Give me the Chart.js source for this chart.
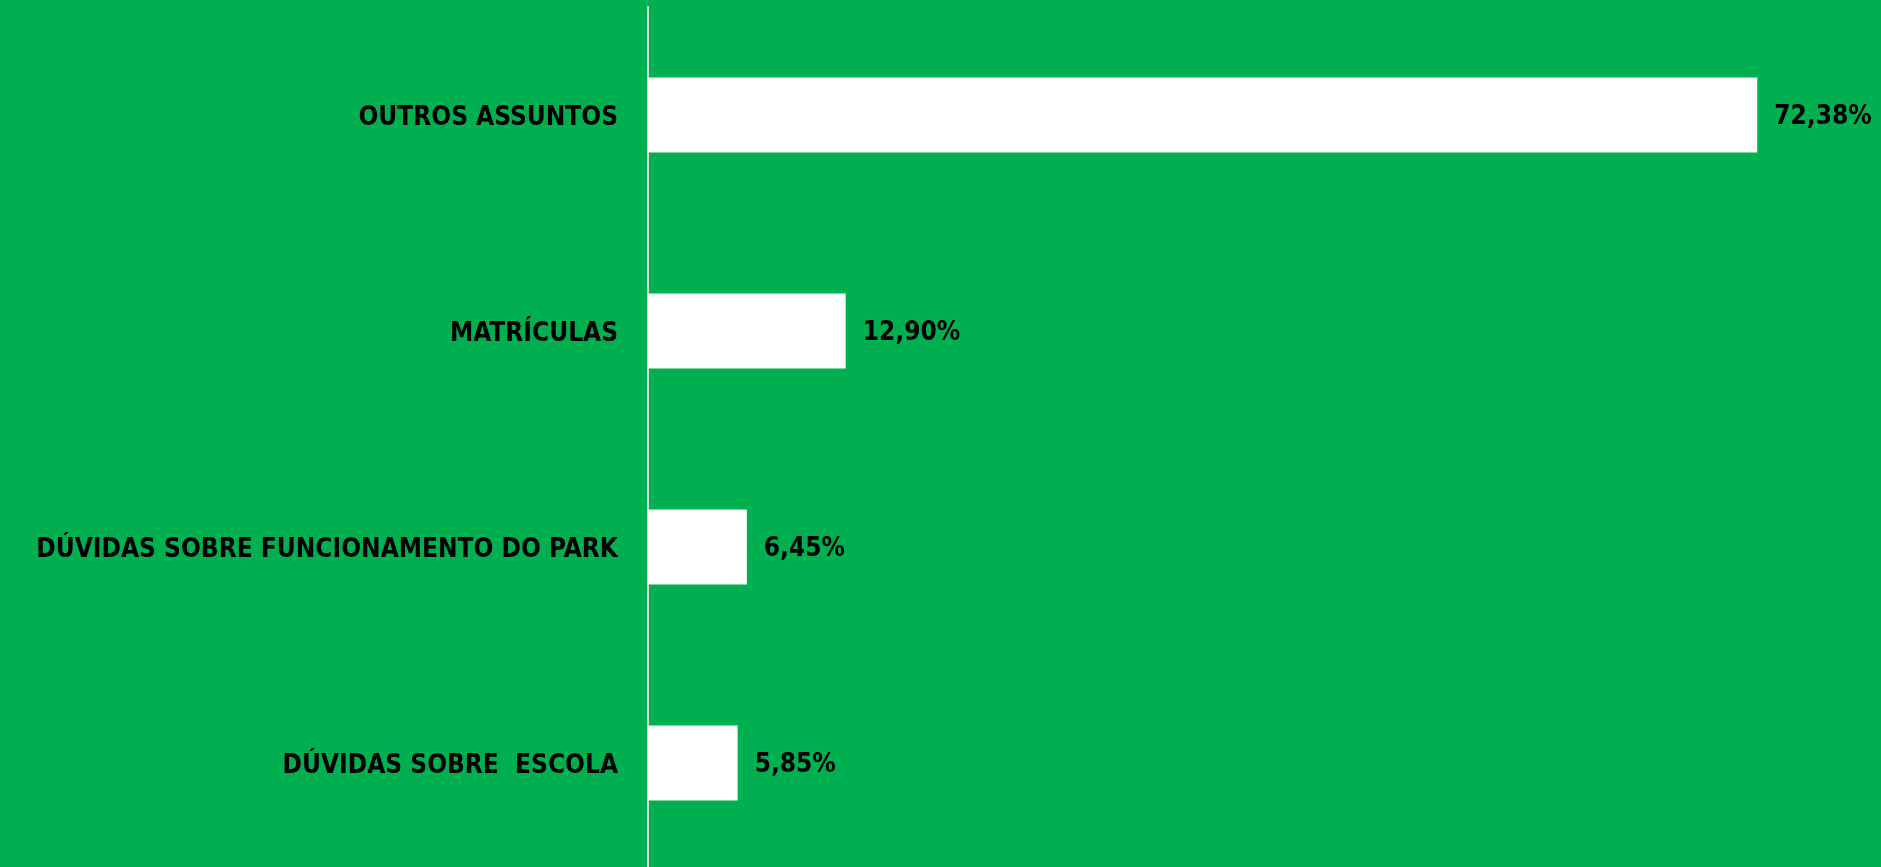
<!DOCTYPE html>
<html>
<head>
<meta charset="utf-8">
<script src="https://cdn.jsdelivr.net/npm/chart.js@4.4.1/dist/chart.umd.min.js"></script>
<style>
  html, body { margin: 0; padding: 0; background: #00B050; overflow: hidden; }
  #wrap { width: 1881px; height: 867px; position: relative; overflow: hidden; }
</style>
</head>
<body>
<div id="wrap"><canvas id="c" width="1881" height="871"></canvas></div>
<script>
const categories = ["OUTROS ASSUNTOS", "MATRÍCULAS", "DÚVIDAS SOBRE FUNCIONAMENTO DO PARK", "DÚVIDAS SOBRE  ESCOLA"];
const values = [72.38, 12.90, 6.45, 5.85];
const axisMax = 80;

const FONT_FAMILY = '"Liberation Sans Narrow", "DejaVu Sans Condensed", "Liberation Sans", sans-serif';

const valueLabels = {
  id: 'valueLabels',
  afterDatasetsDraw(chart) {
    const ctx = chart.ctx;
    const meta = chart.getDatasetMeta(0);
    ctx.save();
    ctx.font = 'bold 26px ' + FONT_FAMILY;
    ctx.fillStyle = '#000000';
    ctx.textAlign = 'left';
    ctx.textBaseline = 'middle';
    meta.data.forEach((el, i) => {
      const txt = values[i].toFixed(2).replace('.', ',') + '%';
      ctx.fillText(txt, el.x + 17, el.y + 2);
    });
    ctx.restore();
  }
};

new Chart(document.getElementById('c'), {
  type: 'bar',
  data: {
    labels: categories,
    datasets: [{
      data: values,
      backgroundColor: '#FFFFFF',
      borderWidth: 0,
      categoryPercentage: 1.0,
      barPercentage: 0.347
    }]
  },
  options: {
    indexAxis: 'y',
    responsive: false,
    animation: false,
    layout: { padding: { top: 7, right: 7, bottom: 0, left: 0 } },
    plugins: {
      legend: { display: false },
      tooltip: { enabled: false }
    },
    scales: {
      x: {
        display: false,
        min: 0,
        max: axisMax
      },
      y: {
        afterFit(scale) {
          scale.width = 648;
          scale.paddingTop = 0;
          scale.paddingBottom = 0;
        },
        grid: { display: true, color: 'rgba(0,0,0,0)', drawTicks: false },
        border: { display: true, color: '#D9D9D9', width: 2 },
        ticks: {
          padding: 30,
          labelOffset: 3,
          color: '#000000',
          font: { family: FONT_FAMILY, size: 26, weight: 'bold' }
        }
      }
    }
  },
  plugins: [valueLabels]
});
</script>
</body>
</html>
